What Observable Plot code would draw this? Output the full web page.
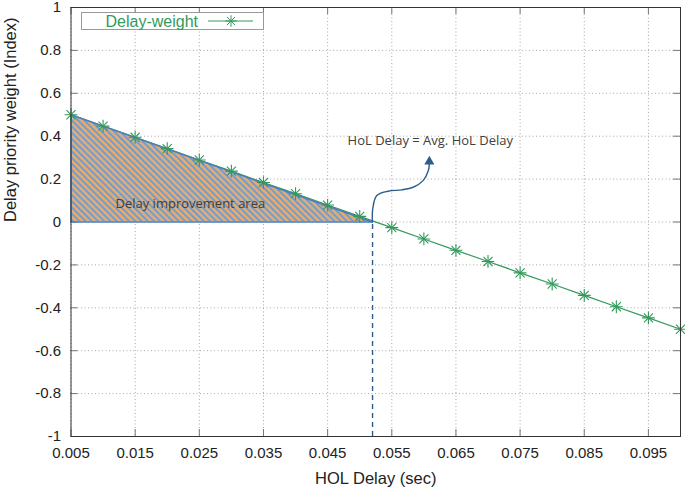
<!DOCTYPE html>
<html>
<head>
<meta charset="utf-8">
<script src="https://cdn.jsdelivr.net/npm/d3@7"></script>
<script src="https://cdn.jsdelivr.net/npm/@observablehq/plot@0.6"></script>
<style>
  html, body { margin: 0; padding: 0; background: #fff; }
  #chart { width: 685px; height: 491px; }
</style>
</head>
<body>
<div id="chart"></div>
<script>
// Data
const hol = [0.005, 0.010, 0.015, 0.020, 0.025, 0.030, 0.035, 0.040, 0.045, 0.050,
             0.055, 0.060, 0.065, 0.070, 0.075, 0.080, 0.085, 0.090, 0.095, 0.100];
const weight = [0.5, 0.447, 0.395, 0.342, 0.289, 0.237, 0.184, 0.132, 0.079, 0.026,
                -0.026, -0.079, -0.132, -0.184, -0.237, -0.289, -0.342, -0.395, -0.447, -0.5];
const xTicks = [0.005, 0.015, 0.025, 0.035, 0.045, 0.055, 0.065, 0.075, 0.085, 0.095];
const yTicks = [-1, -0.8, -0.6, -0.4, -0.2, 0, 0.2, 0.4, 0.6, 0.8, 1];
const avgHol = 0.052;
const areaX = [0.005, 0.005, avgHol];
const areaY = [0, 0.5, 0];
const arrowX = [0.05198, 0.05204, 0.05266, 0.05442, 0.05656, 0.05832, 0.05988, 0.0607, 0.06086];
const arrowY = [0.0, 0.063, 0.1235, 0.1436, 0.150, 0.162, 0.193, 0.24, 0.272];
const seriesName = "Delay-weight";
const xLabel = "HOL Delay (sec)";
const yLabel = "Delay priority weight (Index)";
const annotations = [
  {x: 0.061, y: 0.38, text: "HoL Delay = Avg. HoL Delay"},
  {x: 0.0236, y: 0.083, text: "Delay improvement area"}
];

const green = "#33995c";
const blue = "#2e5d8c";

const pts = hol.map((x, i) => ({x, y: weight[i]}));
const tri = areaX.map((x, i) => ({x, y: areaY[i]}));
const arr = arrowX.map((x, i) => ({x, y: arrowY[i]}));

const W = 685, H = 491;
const mL = 70.5, mR = 5, mT = 7, mB = 55;

const chart = Plot.plot({
  width: W, height: H,
  marginLeft: mL, marginRight: mR, marginTop: mT, marginBottom: mB,
  style: {fontFamily: "'Liberation Sans', Arial, sans-serif", fontSize: "15px", background: "#fff", color: "#222"},
  x: {domain: [0.005, 0.1]},
  y: {domain: [-1, 1]},
  marks: [
    Plot.gridX(xTicks, {stroke: "#a8a8a8", strokeOpacity: 1, strokeDasharray: "1,2.5"}),
    Plot.gridY(yTicks, {stroke: "#a8a8a8", strokeOpacity: 1, strokeDasharray: "1,2.5"}),
    // inward tick marks (mirrored)
    Plot.tickX(xTicks, {stroke: "#777", insetTop: H - mT - mB - 7}),
    Plot.tickX(xTicks, {stroke: "#777", insetBottom: H - mT - mB - 7}),
    Plot.tickY(yTicks, {stroke: "#777", insetRight: W - mL - mR - 7}),
    Plot.tickY(yTicks, {stroke: "#777", insetLeft: W - mL - mR - 7}),
    Plot.axisX(xTicks, {tickSize: 0, tickPadding: 11, fontSize: 15, tickFormat: d3.format(".3f"), label: null}),
    Plot.axisY(yTicks, {tickSize: 0, tickPadding: 10, fontSize: 15, tickFormat: d => String(d), label: null}),
    Plot.text([xLabel], {frameAnchor: "bottom", dy: 47, fontSize: 16.5, fill: "#222", text: d => d}),
    Plot.text([yLabel], {frameAnchor: "left", dx: -60, rotate: -90, fontSize: 16.5, fill: "#222", text: d => d}),
    Plot.line(pts, {x: "x", y: "y", stroke: green, strokeWidth: 1.2}),
    Plot.areaY(tri, {x: "x", y: "y", fill: "url(#hatchPattern)", curve: "linear"}),
    Plot.line([...tri, tri[0]], {x: "x", y: "y", stroke: "#4a7ebb", strokeWidth: 1.5, curve: "linear-closed"}),
    Plot.dot(pts, {x: "x", y: "y", symbol: "plus", r: 4.2, stroke: green, strokeWidth: 1.1}),
    Plot.dot(pts, {x: "x", y: "y", symbol: "times", r: 4.2, stroke: green, strokeWidth: 1.1}),
    Plot.ruleX([avgHol], {y1: -1, y2: 0, stroke: blue, strokeWidth: 1.4, strokeDasharray: "5,4"}),
    Plot.line(arr, {x: "x", y: "y", stroke: blue, strokeWidth: 1.4, curve: "catmull-rom"}),
    Plot.dot([arr[arr.length - 1]], {x: "x", y: "y", symbol: "triangle", r: 2.8, fill: blue, stroke: blue, dy: -2}),
    Plot.text(annotations, {x: "x", y: "y", text: "text", fontSize: 13, fill: "#404040",
      fontFamily: "'Open Sans', 'Noto Sans', sans-serif"}),
    Plot.frame({stroke: "#333", strokeWidth: 1})
  ]
});

// hatch pattern definition
const svg = d3.select(chart);
const defs = svg.insert("defs", ":first-child");
const pat = defs.append("pattern")
  .attr("id", "hatchPattern")
  .attr("patternUnits", "userSpaceOnUse")
  .attr("width", 4.4).attr("height", 4.4)
  .attr("patternTransform", "rotate(-45)");
pat.append("rect").attr("width", 4.4).attr("height", 4.4).attr("fill", "#e2ab74");
pat.append("rect").attr("width", 1.8).attr("height", 4.4).attr("fill", "#6a9dd6");

// legend (inside plot, top-left)
const lg = svg.append("g");
lg.append("rect").attr("x", 81.5).attr("y", 12.5).attr("width", 182).attr("height", 17)
  .attr("fill", "#fff").attr("stroke", "#999");
lg.append("text").attr("x", 198).attr("y", 27).attr("text-anchor", "end")
  .attr("font-size", 16).attr("fill", green).text(seriesName);
lg.append("line").attr("x1", 208).attr("x2", 253).attr("y1", 21).attr("y2", 21)
  .attr("stroke", green).attr("stroke-width", 1.2);
lg.append("path").attr("transform", "translate(231,21)").attr("d", d3.symbol(d3.symbolPlus, 45)())
  .attr("fill", "none").attr("stroke", green);
lg.append("path").attr("transform", "translate(231,21)").attr("d", d3.symbol(d3.symbolTimes, 45)())
  .attr("fill", "none").attr("stroke", green);

document.getElementById("chart").appendChild(chart);
</script>
</body>
</html>
